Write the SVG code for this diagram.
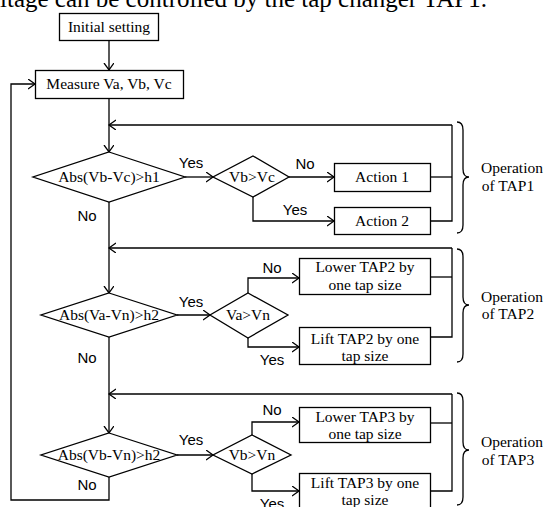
<svg xmlns="http://www.w3.org/2000/svg" width="545" height="507" viewBox="0 0 545 507">
<style>
.box{fill:#fff;stroke:#000;stroke-width:1.3}
.ln{fill:none;stroke:#000;stroke-width:1.3}
.t{font-family:"Liberation Serif","Times New Roman",serif;font-size:15.5px;fill:#000;text-anchor:middle}
.s{font-family:"Liberation Sans",Arial,sans-serif;font-size:15px;fill:#000;text-anchor:middle}
</style>
<defs>
<marker id="ah" markerUnits="userSpaceOnUse" markerWidth="9" markerHeight="12" refX="7" refY="5" orient="auto">
<path d="M0,0 L7,5 L0,10" fill="none" stroke="#000" stroke-width="1.3"/>
</marker>
</defs>
<rect width="545" height="507" fill="#fff"/>
<text x="0" y="7" style="font-family:'Liberation Serif','Times New Roman',serif;font-size:25px;fill:#000">ltage can be controlled by the tap changer TAP1.</text>

<g id="connectors" class="ln">
<path d="M109,40 V70" marker-end="url(#ah)"/>
<path d="M109,98 V152" marker-end="url(#ah)"/>
<path d="M452,125 H109" marker-end="url(#ah)"/>
<path d="M185,177 H213" marker-end="url(#ah)"/>
<path d="M289,177 H334" marker-end="url(#ah)"/>
<path d="M253,197 V221 H334" marker-end="url(#ah)"/>
<path d="M430,177 H452"/>
<path d="M430,221 H452 V125"/>
<path d="M109,202 V293" marker-end="url(#ah)"/>
<path d="M452,248 H109" marker-end="url(#ah)"/>
<path d="M177,315 H210" marker-end="url(#ah)"/>
<path d="M248,293 V278 H299" marker-end="url(#ah)"/>
<path d="M248,338 V347 H299" marker-end="url(#ah)"/>
<path d="M430,277 H452"/>
<path d="M430,337 H452 V248"/>
<path d="M109,337 V433" marker-end="url(#ah)"/>
<path d="M452,394 H109" marker-end="url(#ah)"/>
<path d="M177,455 H213" marker-end="url(#ah)"/>
<path d="M252,435 V422 H299" marker-end="url(#ah)"/>
<path d="M252,474 V491 H299" marker-end="url(#ah)"/>
<path d="M430,423 H452"/>
<path d="M430,491 H452 V394"/>
<path d="M109,477 V500 H11 V84 H35" marker-end="url(#ah)"/>
</g>

<g id="init"><rect class="box" x="59.5" y="13.5" width="99" height="27"/><text class="t" x="109" y="32">Initial setting</text></g>
<g id="measure"><rect class="box" x="35.5" y="70.5" width="148" height="28"/><text class="t" x="109" y="89">Measure Va, Vb, Vc</text></g>

<g id="dec1"><polygon class="box" points="109,152 185,177 109,202 33,177"/><text class="t" x="109" y="182">Abs(Vb-Vc)&gt;h1</text></g>
<g id="dec2"><polygon class="box" points="253,156 289,177 253,197 213,177"/><text class="t" x="252" y="182">Vb&gt;Vc</text></g>
<g id="act1"><rect class="box" x="334.5" y="163.5" width="96" height="28"/><text class="t" x="382" y="182">Action 1</text></g>
<g id="act2"><rect class="box" x="334.5" y="207.5" width="96" height="27"/><text class="t" x="382" y="226">Action 2</text></g>

<g id="dec3"><polygon class="box" points="109,293 177,315 109,337 41,315"/><text class="t" x="109" y="320">Abs(Va-Vn)&gt;h2</text></g>
<g id="dec4"><polygon class="box" points="248,293 288,315 248,338 210,315"/><text class="t" x="248" y="320">Va&gt;Vn</text></g>
<g id="lower2"><rect class="box" x="299.5" y="258.5" width="131" height="36"/><text class="t" x="365" y="272">Lower TAP2 by</text><text class="t" x="365" y="290">one tap size</text></g>
<g id="lift2"><rect class="box" x="299.5" y="327.5" width="131" height="37"/><text class="t" x="365" y="344">Lift TAP2 by one</text><text class="t" x="365" y="361">tap size</text></g>

<g id="dec5"><polygon class="box" points="109,433 177,455 109,477 41,455"/><text class="t" x="109" y="460">Abs(Vb-Vn)&gt;h2</text></g>
<g id="dec6"><polygon class="box" points="252,435 291,455 252,474 213,455"/><text class="t" x="252" y="460">Vb&gt;Vn</text></g>
<g id="lower3"><rect class="box" x="299.5" y="407.5" width="131" height="35"/><text class="t" x="365" y="422">Lower TAP3 by</text><text class="t" x="365" y="439">one tap size</text></g>
<g id="lift3"><rect class="box" x="299.5" y="473.5" width="131" height="36"/><text class="t" x="365" y="488">Lift TAP3 by one</text><text class="t" x="365" y="505">tap size</text></g>

<g id="labels">
<text class="s" x="191" y="168">Yes</text>
<text class="s" x="305" y="169">No</text>
<text class="s" x="295" y="215">Yes</text>
<text class="s" x="87" y="221">No</text>
<text class="s" x="191" y="307">Yes</text>
<text class="s" x="272" y="273">No</text>
<text class="s" x="272" y="365">Yes</text>
<text class="s" x="87" y="363">No</text>
<text class="s" x="191" y="445">Yes</text>
<text class="s" x="272" y="415">No</text>
<text class="s" x="272" y="509">Yes</text>
<text class="s" x="87" y="490">No</text>
</g>

<g id="tap1">
<path class="ln" d="M457,122 Q463,122 463,130 V169 Q463,177 469,177 Q463,177 463,185 V225 Q463,233 457,233"/>
<text class="t" x="512" y="173">Operation</text><text class="t" x="508" y="191">of TAP1</text>
</g>
<g id="tap2">
<path class="ln" d="M457,249 Q463,249 463,257 V297 Q463,305 469,305 Q463,305 463,313 V354 Q463,362 457,362"/>
<text class="t" x="512" y="302">Operation</text><text class="t" x="508" y="319">of TAP2</text>
</g>
<g id="tap3">
<path class="ln" d="M457,393 Q463,393 463,401 V442 Q463,450 469,450 Q463,450 463,458 V497 Q463,505 457,505"/>
<text class="t" x="512" y="447">Operation</text><text class="t" x="508" y="465">of TAP3</text>
</g>
</svg>
